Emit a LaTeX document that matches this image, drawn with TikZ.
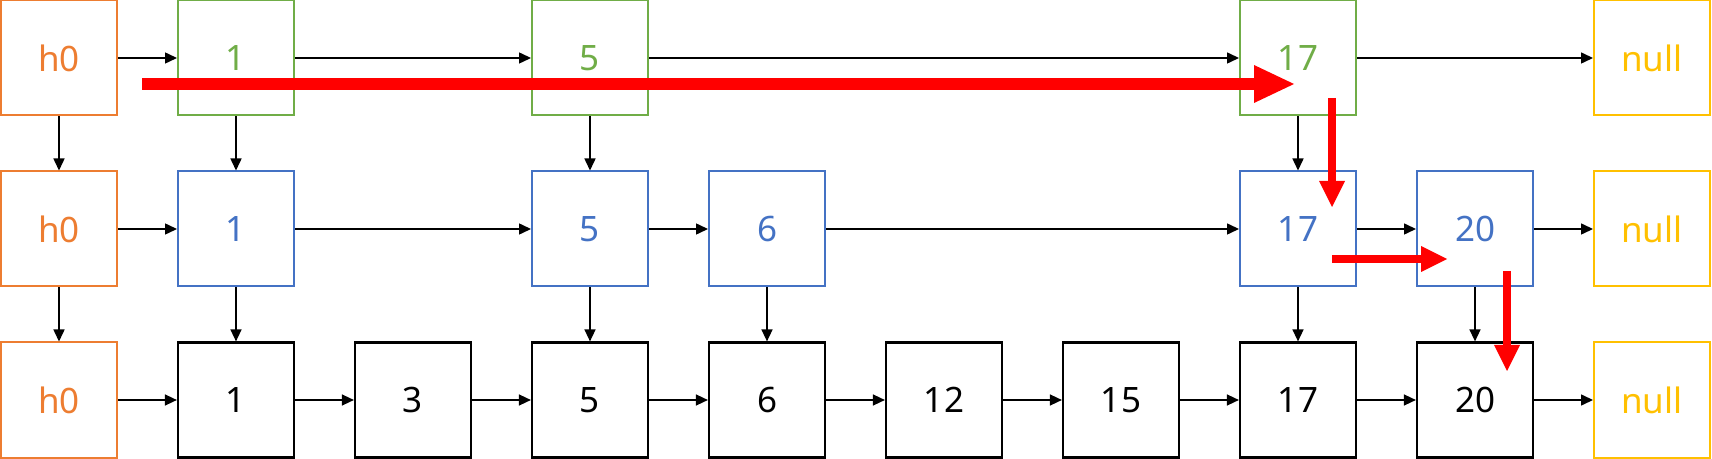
\documentclass[tikz,border=0pt]{standalone}
\usepackage{fontspec}
\setmainfont{Noto Sans}
\usetikzlibrary{arrows.meta}
\definecolor{headc}{HTML}{ED7D31}
\definecolor{topc}{HTML}{70AD47}
\definecolor{midc}{HTML}{4472C4}
\definecolor{nullc}{HTML}{FFC000}
\tikzset{
    cell/.style = {rectangle, minimum width=58pt, minimum height=57.5pt, inner sep=0pt, font=\fontsize{17.5}{20}\selectfont},
    hnode/.style = {cell, draw=headc, text=headc, line width=1pt},
    tnode/.style = {cell, draw=topc, text=topc, line width=1pt},
    mnode/.style = {cell, draw=midc, text=midc, line width=1pt},
    bnode/.style = {cell, draw=black, text=black, line width=1.1pt},
    nnode/.style = {cell, draw=nullc, text=nullc, line width=1pt},
    edgen/.style = {-{Triangle[length=6pt,width=5.5pt]}, line width=0.75pt},
    edger/.style = {-{Triangle[length=13pt,width=13pt,line width=0pt]}, line width=4.3pt, red}, % search step
    edgerb/.style = {-{Triangle[length=20pt,width=19pt,line width=0pt]}, line width=6pt, red}, % first jump
}
\begin{document}
\begin{tikzpicture}[x=0.5pt,y=-0.5pt]
\useasboundingbox (0,0) rectangle (1712,459);
%
\node[hnode] at (59, 58) (th0) {h0};
\node[tnode] at (236, 58) (t1) {1};
\node[tnode] at (590, 58) (t5) {5};
\node[tnode] at (1298, 58) (t17) {17};
\node[nnode] at (1652, 58) (tnull) {null};
%
\node[hnode] at (59, 229) (mh0) {h0};
\node[mnode] at (236, 229) (m1) {1};
\node[mnode] at (590, 229) (m5) {5};
\node[mnode] at (767, 229) (m6) {6};
\node[mnode] at (1298, 229) (m17) {17};
\node[mnode] at (1475, 229) (m20) {20};
\node[nnode] at (1652, 229) (mnull) {null};
%
\node[hnode] at (59, 400) (bh0) {h0};
\node[bnode] at (236, 400) (b1) {1};
\node[bnode] at (413, 400) (b3) {3};
\node[bnode] at (590, 400) (b5) {5};
\node[bnode] at (767, 400) (b6) {6};
\node[bnode] at (944, 400) (b12) {12};
\node[bnode] at (1121, 400) (b15) {15};
\node[bnode] at (1298, 400) (b17) {17};
\node[bnode] at (1475, 400) (b20) {20};
\node[nnode] at (1652, 400) (bnull) {null};
%
\draw[edgen] (th0) edge node {} (t1);
\draw[edgen] (t1) edge node {} (t5);
\draw[edgen] (t5) edge node {} (t17);
\draw[edgen] (t17) edge node {} (tnull);
%
\draw[edgen] (mh0) edge node {} (m1);
\draw[edgen] (m1) edge node {} (m5);
\draw[edgen] (m5) edge node {} (m6);
\draw[edgen] (m6) edge node {} (m17);
\draw[edgen] (m17) edge node {} (m20);
\draw[edgen] (m20) edge node {} (mnull);
%
\draw[edgen] (bh0) edge node {} (b1);
\draw[edgen] (b1) edge node {} (b3);
\draw[edgen] (b3) edge node {} (b5);
\draw[edgen] (b5) edge node {} (b6);
\draw[edgen] (b6) edge node {} (b12);
\draw[edgen] (b12) edge node {} (b15);
\draw[edgen] (b15) edge node {} (b17);
\draw[edgen] (b17) edge node {} (b20);
\draw[edgen] (b20) edge node {} (bnull);
%
\draw[edgen] (th0) edge node {} (mh0);
\draw[edgen] (t1) edge node {} (m1);
\draw[edgen] (t5) edge node {} (m5);
\draw[edgen] (t17) edge node {} (m17);
\draw[edgen] (mh0) edge node {} (bh0);
\draw[edgen] (m1) edge node {} (b1);
\draw[edgen] (m5) edge node {} (b5);
\draw[edgen] (m6) edge node {} (b6);
\draw[edgen] (m17) edge node {} (b17);
\draw[edgen] (m20) edge node {} (b20);
%
\coordinate (ra) at (142, 84);
\coordinate (rb) at (1294, 84);
\coordinate (rc) at (1332, 98);
\coordinate (rd) at (1332, 207);
\coordinate (re) at (1332, 259);
\coordinate (rf) at (1447, 259);
\coordinate (rg) at (1507, 271);
\coordinate (rh) at (1507, 371);
\draw[edgerb] (ra) -- (rb);
\draw[edger] (rc) -- (rd);
\draw[edger] (re) -- (rf);
\draw[edger] (rg) -- (rh);

\end{tikzpicture}
\end{document}
